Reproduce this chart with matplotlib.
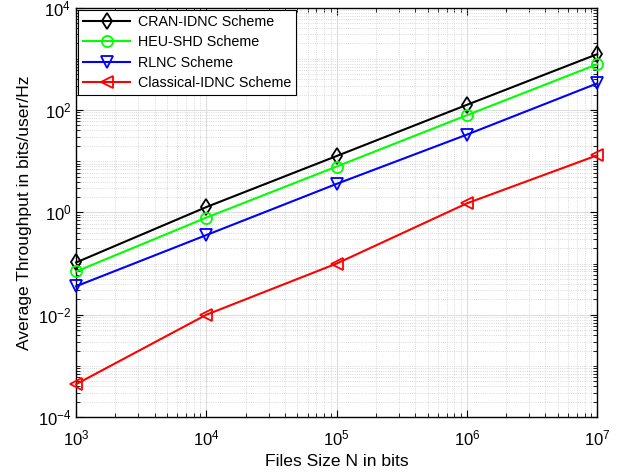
import matplotlib

matplotlib.use("Agg")
import matplotlib.pyplot as plt  # noqa: E402
from matplotlib.ticker import FixedLocator, LogLocator, NullFormatter  # noqa: E402

plt.rcParams["font.family"] = ["Liberation Sans", "DejaVu Sans"]
plt.rcParams["mathtext.fontset"] = "custom"
plt.rcParams["mathtext.rm"] = "Liberation Sans"

# file sizes N (bits)
file_sizes = [1e3, 1e4, 1e5, 1e6, 1e7]

# average throughput (bits/user/Hz)
cran_idnc = [0.105, 1.27, 12.6, 126, 1230]
heu_shd = [0.070, 0.79, 7.85, 79, 780]
rlnc = [0.036, 0.36, 3.6, 33, 330]
classical_idnc = [4.4e-4, 0.0100, 0.10, 1.5, 13]

series = [
    ("CRAN-IDNC Scheme", cran_idnc, "black", "d"),
    ("HEU-SHD Scheme", heu_shd, "#00ff00", "o"),
    ("RLNC Scheme", rlnc, "blue", "v"),
    ("Classical-IDNC Scheme", classical_idnc, "red", "<"),
]

fig = plt.figure(figsize=(6.24, 4.74), dpi=100)
ax = fig.add_axes([0.122, 0.12, 0.835, 0.864])

for label, values, color, marker in series:
    ax.plot(
        file_sizes, values,
        color=color, marker=marker, markersize=8,
        markerfacecolor="none", markeredgewidth=1.3,
        linewidth=1.5, label=label, clip_on=False, zorder=3,
    )

ax.set_xscale("log")
ax.set_yscale("log")
ax.set_xlim(1e3, 1e7)
ax.set_ylim(1e-4, 1e4)
ax.yaxis.set_major_locator(FixedLocator([1e-4, 1e-2, 1e0, 1e2, 1e4]))
ax.yaxis.set_minor_locator(LogLocator(base=10, subs=range(1, 10), numticks=20))
ax.yaxis.set_minor_formatter(NullFormatter())
ax.xaxis.set_minor_locator(LogLocator(base=10, subs=range(2, 10), numticks=20))
ax.xaxis.set_minor_formatter(NullFormatter())

ax.tick_params(which="both", direction="in", top=True, right=True, labelsize=12)
ax.tick_params(which="major", length=5, width=0.8)
ax.tick_params(which="minor", length=3, width=0.6)
ax.tick_params(axis="x", pad=8)

ax.grid(True, which="major", color="#dddddd", linewidth=0.8)
ax.grid(True, which="minor", color="#cccccc", linestyle=":", linewidth=0.6)
ax.set_axisbelow(True)
for spine in ax.spines.values():
    spine.set_linewidth(1.0)

ax.set_xlabel("Files Size N in bits", fontsize=12.6)
ax.set_ylabel("Average Throughput in bits/user/Hz", fontsize=12.6)

leg = ax.legend(
    loc="upper left", fontsize=10.3, fancybox=False, framealpha=1,
    edgecolor="black", borderaxespad=0.15, handlelength=3.3,
    handletextpad=0.5, borderpad=0.35, labelspacing=0.45,
)
leg.get_frame().set_linewidth(0.8)

fig.savefig("out.png", dpi=100)
